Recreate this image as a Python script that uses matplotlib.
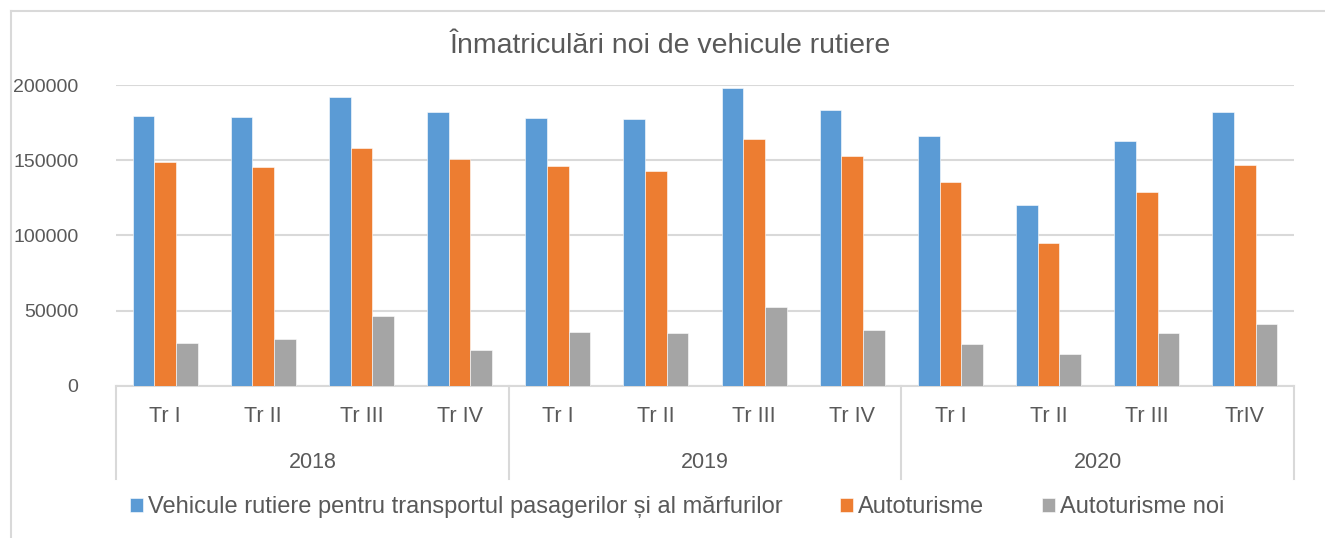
import numpy as np
import matplotlib
matplotlib.use("Agg")
import matplotlib.pyplot as plt
from matplotlib.lines import Line2D

plt.rcParams["font.family"] = ["Liberation Sans", "DejaVu Sans"]

years = ["2018", "2019", "2020"]
quarters = ["Tr I", "Tr II", "Tr III", "Tr IV",
            "Tr I", "Tr II", "Tr III", "Tr IV",
            "Tr I", "Tr II", "Tr III", "TrIV"]

vehicule = [179700, 179000, 192200, 182000,
            177800, 177600, 197800, 183100,
            165800, 120400, 162700, 182200]
autoturisme = [149100, 145400, 158400, 150700,
               145900, 142800, 163800, 152500,
               135500, 94700, 128600, 147000]
autoturisme_noi = [28200, 31100, 46200, 23800,
                   35500, 35200, 52100, 37000,
                   27500, 21100, 34800, 41200]

series_names = ["Vehicule rutiere pentru transportul pasagerilor și al mărfurilor",
                "Autoturisme", "Autoturisme noi"]
colors = ["#5B9BD5", "#ED7D31", "#A5A5A5"]
text_col = "#595959"
grid_col = "#D9D9D9"

W, H = 1325, 538
fig = plt.figure(figsize=(W / 100, H / 100), dpi=100)

# outer chart frame: only left and top edges are visible
fig.add_artist(Line2D([11 / W, 11 / W], [0, 1 - 11 / H], transform=fig.transFigure,
                      color=grid_col, lw=1.5))
fig.add_artist(Line2D([11 / W, 1], [1 - 11 / H, 1 - 11 / H], transform=fig.transFigure,
                      color=grid_col, lw=1.5))

ax = fig.add_axes([116 / W, 1 - 385.7 / H, (1294 - 116) / W, (385.7 - 85) / H])

x = np.arange(len(quarters))
w = 0.221
for i, (vals, c, name) in enumerate(zip([vehicule, autoturisme, autoturisme_noi],
                                        colors, series_names)):
    ax.bar(x + (i - 1) * w, vals, width=w, color=c, label=name,
           edgecolor="white", linewidth=0.4, zorder=3)

ax.set_xlim(-0.5, len(quarters) - 0.5)
ax.set_ylim(0, 200000)
ax.set_yticks(np.arange(0, 200001, 50000))
ax.yaxis.grid(True, color=grid_col, lw=1.5, zorder=0)
ax.tick_params(axis="y", length=0, pad=27, labelsize=14, labelcolor=text_col)
ax.set_xticks([])
for s in ["top", "right", "left"]:
    ax.spines[s].set_visible(False)
ax.spines["bottom"].set_color(grid_col)
ax.spines["bottom"].set_linewidth(1.5)

tr = ax.get_xaxis_transform()
for xi, q in zip(x, quarters):
    ax.text(xi, -0.104, q, transform=tr, ha="center", va="center",
            fontsize=15.5, color=text_col)
for k, yr in enumerate(years):
    ax.text(4 * k + 1.5, -0.257, yr, transform=tr, ha="center", va="center",
            fontsize=15.5, color=text_col)
for xb in [-0.5, 3.5, 7.5, 11.5]:
    ax.plot([xb, xb], [0, -0.31], transform=tr, color=grid_col, lw=1.5,
            clip_on=False)

fig.text(670 / W, 1 - 46 / H, "Înmatriculări noi de vehicule rutiere",
         ha="center", va="center", fontsize=20.5, color=text_col)

fig.legend(loc="center", bbox_to_anchor=(677 / W, 1 - 507 / H), ncol=3,
           frameon=False, fontsize=17, labelcolor=text_col,
           handlelength=0.55, handleheight=0.55, handletextpad=0.21,
           columnspacing=2.45)

fig.savefig("out.png", dpi=100)
